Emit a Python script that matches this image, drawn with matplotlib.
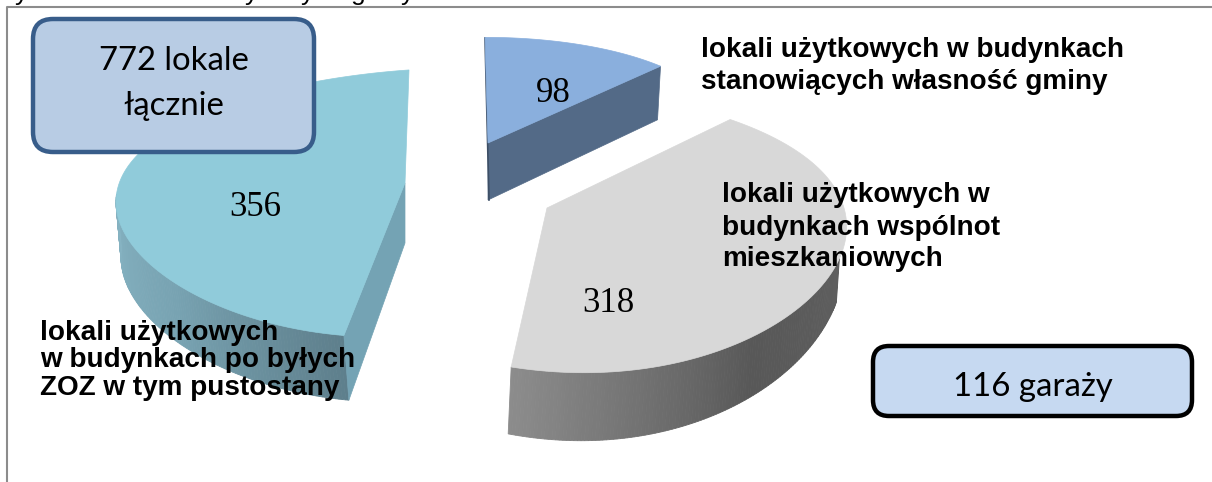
import numpy as np
import matplotlib
matplotlib.use("Agg")
import matplotlib.pyplot as plt
from matplotlib.colors import LinearSegmentedColormap
from matplotlib.patches import FancyBboxPatch, Polygon

# values
values = [98, 318, 356]
value_labels = ["98", "318", "356"]
label_98 = ["lokali użytkowych w budynkach", "stanowiących własność gminy"]
label_318 = ["lokali użytkowych w", "budynkach wspólnot", "mieszkaniowych"]
label_356 = ["lokali użytkowych", "w budynkach po byłych", "ZOZ w tym pustostany"]
box_total = ["772 lokale", "łącznie"]
box_garages = "116 garaży"
cut_off_letters = ["y", "y", "y", "g", "y"]

total = sum(values)
edges = np.cumsum([0] + values) / total * 2 * np.pi


def project(theta, s):
    # one point of the slice rim, perspective only squeezes the far side in y
    u, v = np.sin(theta), np.cos(theta)
    scale = 1 / (1 + 0.15 * v)
    x = s["apex"][0] + s["rx"] * u + s["shear"] * v + s["bow"] * v ** 2
    y = s["apex"][1] - s["ry"] * v * scale + s["tilt"] * u
    return x, y, s["d0"] - s["d1"] * v


def draw_wall(ax, s, t0, t1, colors, n=120):
    cmap = LinearSegmentedColormap.from_list("wall", colors)
    th = np.linspace(t0, t1, n + 1)
    x, y, d = project(th, s)
    w = s["wall_dx"]
    for i in range(n):
        quad = [(x[i], y[i]), (x[i + 1], y[i + 1]),
                (x[i + 1] + w, y[i + 1] + d[i + 1]), (x[i] + w, y[i] + d[i])]
        c = cmap(i / (n - 1))
        ax.add_patch(Polygon(quad, closed=True, fc=c, ec=c, lw=0.6, zorder=s["z"]))


def draw_side(ax, s, theta, color):
    x, y, d = project(theta, s)
    px, py = s["apex"]
    quad = [(px, py), (x, y), (x + s["wall_dx"], y + d), (px, py + s["apex_d"])]
    ax.add_patch(Polygon(quad, closed=True, fc=color, ec=color, lw=0.5, zorder=s["z"]))


def draw_top(ax, s, t0, t1, color):
    th = np.linspace(t0, t1, 200)
    x, y, _ = project(th, s)
    pts = [s["apex"]] + list(zip(x, y))
    ax.add_patch(Polygon(pts, closed=True, fc=color, ec=color, lw=0.5, zorder=s["z"] + 1))


fig = plt.figure(figsize=(12.12, 4.82), dpi=100)
ax = fig.add_axes([0, 0, 1, 1])
ax.set_xlim(0, 1212)
ax.set_ylim(482, 0)
ax.axis("off")

# chart frame
ax.plot([6.5, 6.5, 1212], [482, 7, 7], color="#8c8c8c", lw=1.5, zorder=1)

slice_98 = dict(apex=(488, 143), rx=244, ry=121.5, shear=-3, bow=0, tilt=0,
                d0=55, d1=2, wall_dx=-3, apex_d=57, z=3)
slice_318 = dict(apex=(547, 208), rx=297, ry=140, shear=-40, bow=-3, tilt=0,
                 d0=31, d1=37, wall_dx=-3, apex_d=60, z=2)
slice_356 = dict(apex=(405, 183), rx=289, ry=130, shear=-2.6, bow=6.6, tilt=-20,
                 d0=55, d1=10, wall_dx=5, apex_d=60, z=2)

# slice 98
draw_side(ax, slice_98, edges[1], "#536a87")
ax.plot([485, 489], [38, 200], color="#3d4f66", lw=1.2, zorder=3)
draw_top(ax, slice_98, edges[0], edges[1], "#8aafdd")

# slice 318
draw_wall(ax, slice_318, edges[2], np.radians(110),
          [(0, "#8c8c8c"), (0.6, "#585858"), (1, "#5e5e5e")])
draw_top(ax, slice_318, edges[1], edges[2], "#d8d8d8")

# slice 356
draw_wall(ax, slice_356, edges[2], np.radians(274), ["#5e7f8c", "#78a3b2", "#86b3c2"])
draw_side(ax, slice_356, edges[2], "#74a3b4")
draw_top(ax, slice_356, edges[2], edges[3], "#90cbda")

# numbers on the slices
serif = "Liberation Serif"
for txt, pos in zip(value_labels, [(553, 93), (608, 304), (255, 207)]):
    ax.text(pos[0], pos[1], txt, family=serif, fontsize=25, color="black",
            ha="center", va="center", zorder=8)

# bold labels
for lines, x, ys in [(label_98, 701, [50, 82]),
                     (label_318, 722, [195, 228, 259]),
                     (label_356, 40, [333, 360, 388])]:
    for line, y in zip(lines, ys):
        ax.text(x, y, line, family="Liberation Sans", weight="bold", fontsize=20.1,
                color="black", ha="left", va="center", zorder=8)

# rounded boxes
ax.add_patch(FancyBboxPatch((33, 19), 281, 133, boxstyle="round,pad=0,rounding_size=20",
                            fc="#b8cce4", ec="#385d8a", lw=3.2, zorder=6))
for line, y in zip(box_total, [61, 106]):
    ax.text(174, y, line, family="Lato", fontsize=23.7, color="black",
            ha="center", va="center", zorder=8)

ax.add_patch(FancyBboxPatch((873, 346), 319, 70, boxstyle="round,pad=0,rounding_size=16",
                            fc="#c6d9f1", ec="black", lw=3.2, zorder=6))
ax.text(1033, 387, box_garages, family="Lato", fontsize=23.8, color="black",
        ha="center", va="center", zorder=8)

# line of text above the chart, only the descenders show
for ch, x in zip(cut_off_letters, [22, 252, 308, 358, 408]):
    ax.text(x, 0, ch, family="Liberation Sans", fontsize=19, color="black",
            ha="center", va="baseline", zorder=8, clip_on=True)

fig.savefig("out.png", dpi=100, facecolor="white")
